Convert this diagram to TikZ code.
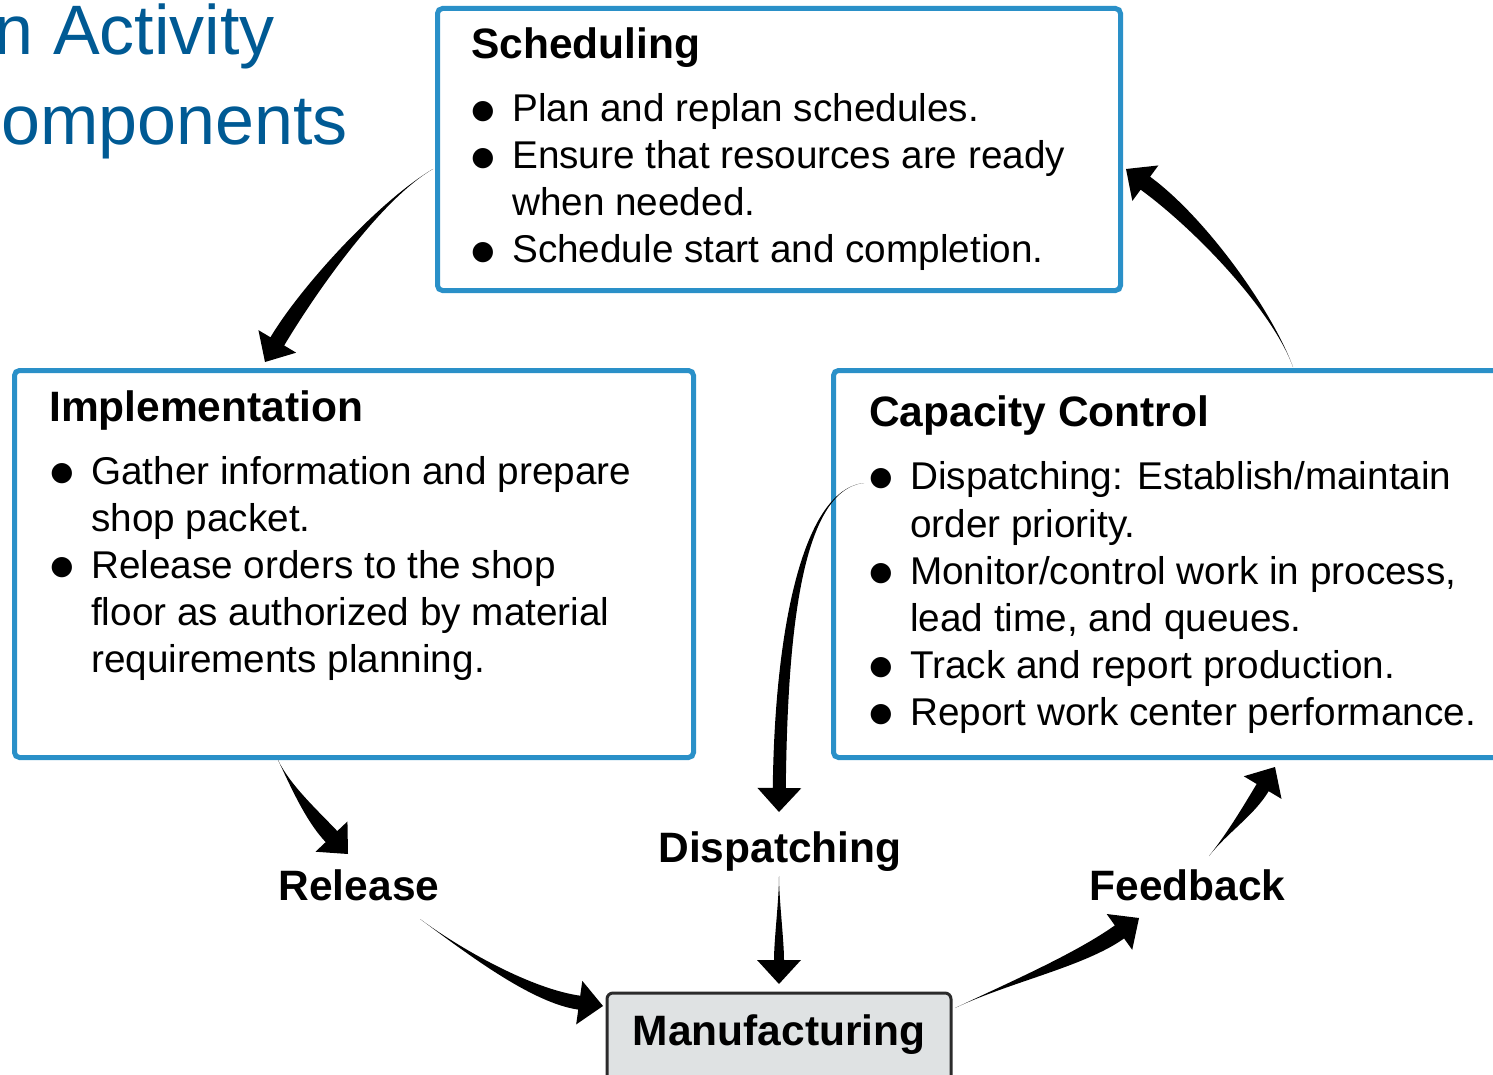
\documentclass[tikz,border=0pt]{standalone}
\usepackage{fontspec}
\setmainfont{Liberation Sans}
\newfontfamily\dejavu{DejaVu Sans}
\usetikzlibrary{calc}
\definecolor{boxblue}{HTML}{2A90C8}
\definecolor{titleblue}{HTML}{005A94}
\definecolor{mfill}{HTML}{DFE2E3}
\definecolor{mline}{HTML}{2B2B2B}
\newcommand\bodyfont{\fontsize{38.7pt}{47pt}\selectfont}
\newcommand\headfont{\bfseries\fontsize{42.5pt}{50pt}\selectfont}
\newcommand\titlefont{\fontsize{70pt}{84pt}\selectfont}
% tapered arrow: #1 start, #2 control 1, #3 control 2, #4 tip, #5 shaft half width
\newcommand\tarrow[5]{%
  \coordinate (ta-b) at ($(#4)!24pt!(#3)$);
  \coordinate (ta-l) at ($(ta-b)!#5!90:(#4)$);
  \coordinate (ta-r) at ($(ta-b)!#5!-90:(#4)$);
  \coordinate (ta-hl) at ($(ta-b)!22pt!90:(#4)$);
  \coordinate (ta-hr) at ($(ta-b)!22pt!-90:(#4)$);
  \fill[arrowfill] (#1) .. controls (#2) and ($(#3)+(ta-l)-(ta-b)$) .. (ta-l)
     -- (ta-hl) -- (#4) -- (ta-hr) -- (ta-r)
     .. controls ($(#3)+(ta-r)-(ta-b)$) and (#2) .. (#1) -- cycle;
}
\tikzset{
  bluebox/.style={draw=boxblue, line width=5pt, rounded corners=5pt, inner sep=0pt, outer sep=0pt, anchor=north west},
  mbox/.style={draw=mline, fill=mfill, line width=3pt, rounded corners=6pt, inner sep=0pt, outer sep=0pt, anchor=north west},
  head/.style={anchor=base west, inner sep=0pt, font=\headfont},
  body/.style={anchor=base west, inner sep=0pt, font=\bodyfont},
  bul/.style={inner sep=0pt, font=\dejavu\fontsize{26.5pt}{26.5pt}\selectfont},
  lbl/.style={anchor=base, inner sep=0pt, font=\headfont},
  ttl/.style={anchor=base east, inner sep=0pt, font=\titlefont, text=titleblue},
  arrowfill/.style={fill=black},
}
\begin{document}
\begin{tikzpicture}[x=1pt, y=-1pt]
\useasboundingbox (0,0) rectangle (1493,1075);

% title fragments
\node[ttl] (title1) at (275,55) {n Activity};
\node[ttl] (title2) at (348,145) {omponents};

% boxes
\node[bluebox, minimum width=683pt, minimum height=282pt] (sched) at (437.5,8.5) {};
\node[bluebox, minimum width=679pt, minimum height=387pt] (impl) at (14.5,370.5) {};
\node[bluebox, minimum width=700pt, minimum height=387pt] (cap) at (833.5,370.5) {};
\node[mbox, minimum width=344pt, minimum height=110pt] (manu) at (607,993) {};

% Scheduling text
\node[head] (schedh) at (471,59) {Scheduling};
\node[bul] (sb1) at (483,112) {●};
\node[body] (sl1) at (512,122) {Plan and replan schedules.};
\node[bul] (sb2) at (483,159) {●};
\node[body] (sl2) at (512,169) {Ensure that resources are ready};
\node[body] (sl3) at (512,216) {when needed.};
\node[bul] (sb3) at (483,253) {●};
\node[body] (sl4) at (512,263) {Schedule start and completion.};

% Implementation text
\node[head] (implh) at (49,421) {Implementation};
\node[bul] (ib1) at (62,474) {●};
\node[body] (il1) at (91,484) {Gather information and prepare};
\node[body] (il2) at (91,531) {shop packet.};
\node[bul] (ib2) at (62,568) {●};
\node[body] (il3) at (91,578) {Release orders to the shop};
\node[body] (il4) at (91,625) {floor as authorized by material};
\node[body] (il5) at (91,672) {requirements planning.};

% Capacity Control text
\node[head] (caph) at (869,426) {Capacity Control};
\node[bul] (cb1) at (881,479) {●};
\node[body] (cl1) at (910,489) {Dispatching: Establish/maintain};
\node[body] (cl2) at (910,537) {order priority.};
\node[bul] (cb2) at (881,574) {●};
\node[body] (cl3) at (910,584) {Monitor/control work in process,};
\node[body] (cl4) at (910,631) {lead time, and queues.};
\node[bul] (cb3) at (881,668) {●};
\node[body] (cl5) at (910,678) {Track and report production.};
\node[bul] (cb4) at (881,715) {●};
\node[body] (cl6) at (910,725) {Report work center performance.};

% labels
\node[lbl] (disp) at (780,862) {Dispatching};
\node[lbl] (rel) at (359,900) {Release};
\node[lbl] (feed) at (1187.5,900) {Feedback};
\node[lbl] (manut) at (779,1045) {Manufacturing};

% arrow end points
\coordinate (a1s) at (433,169);  \coordinate (a1t) at (265,362);
\coordinate (a2s) at (1293,367); \coordinate (a2t) at (1126,169);
\coordinate (a3s) at (278,760);  \coordinate (a3t) at (348,854);
\coordinate (a4s) at (420,919);  \coordinate (a4t) at (603,1006);
\coordinate (a5s) at (864,483);  \coordinate (a5t) at (779,812);
\coordinate (a6s) at (779,876);  \coordinate (a6t) at (779,984);
\coordinate (a7s) at (955,1008); \coordinate (a7t) at (1139,918);
\coordinate (a8s) at (1209,856); \coordinate (a8t) at (1275,767);

\tarrow{a1s}{380,200}{308,290}{a1t}{8pt}
\tarrow{a2s}{1272,310}{1201,224}{a2t}{8pt}
\tarrow{a3s}{290,785}{311,815}{a3t}{8pt}
\tarrow{a4s}{465,952}{532,996}{a4t}{7pt}
\tarrow{a5s}{800,490}{781,640}{a5t}{6.5pt}
\tarrow{a6s}{779,900}{779,940}{a6t}{5pt}
\tarrow{a7s}{1010,982}{1080,960}{a7t}{8pt}
\tarrow{a8s}{1228,832}{1248,812}{a8t}{7pt}
\end{tikzpicture}
\end{document}
